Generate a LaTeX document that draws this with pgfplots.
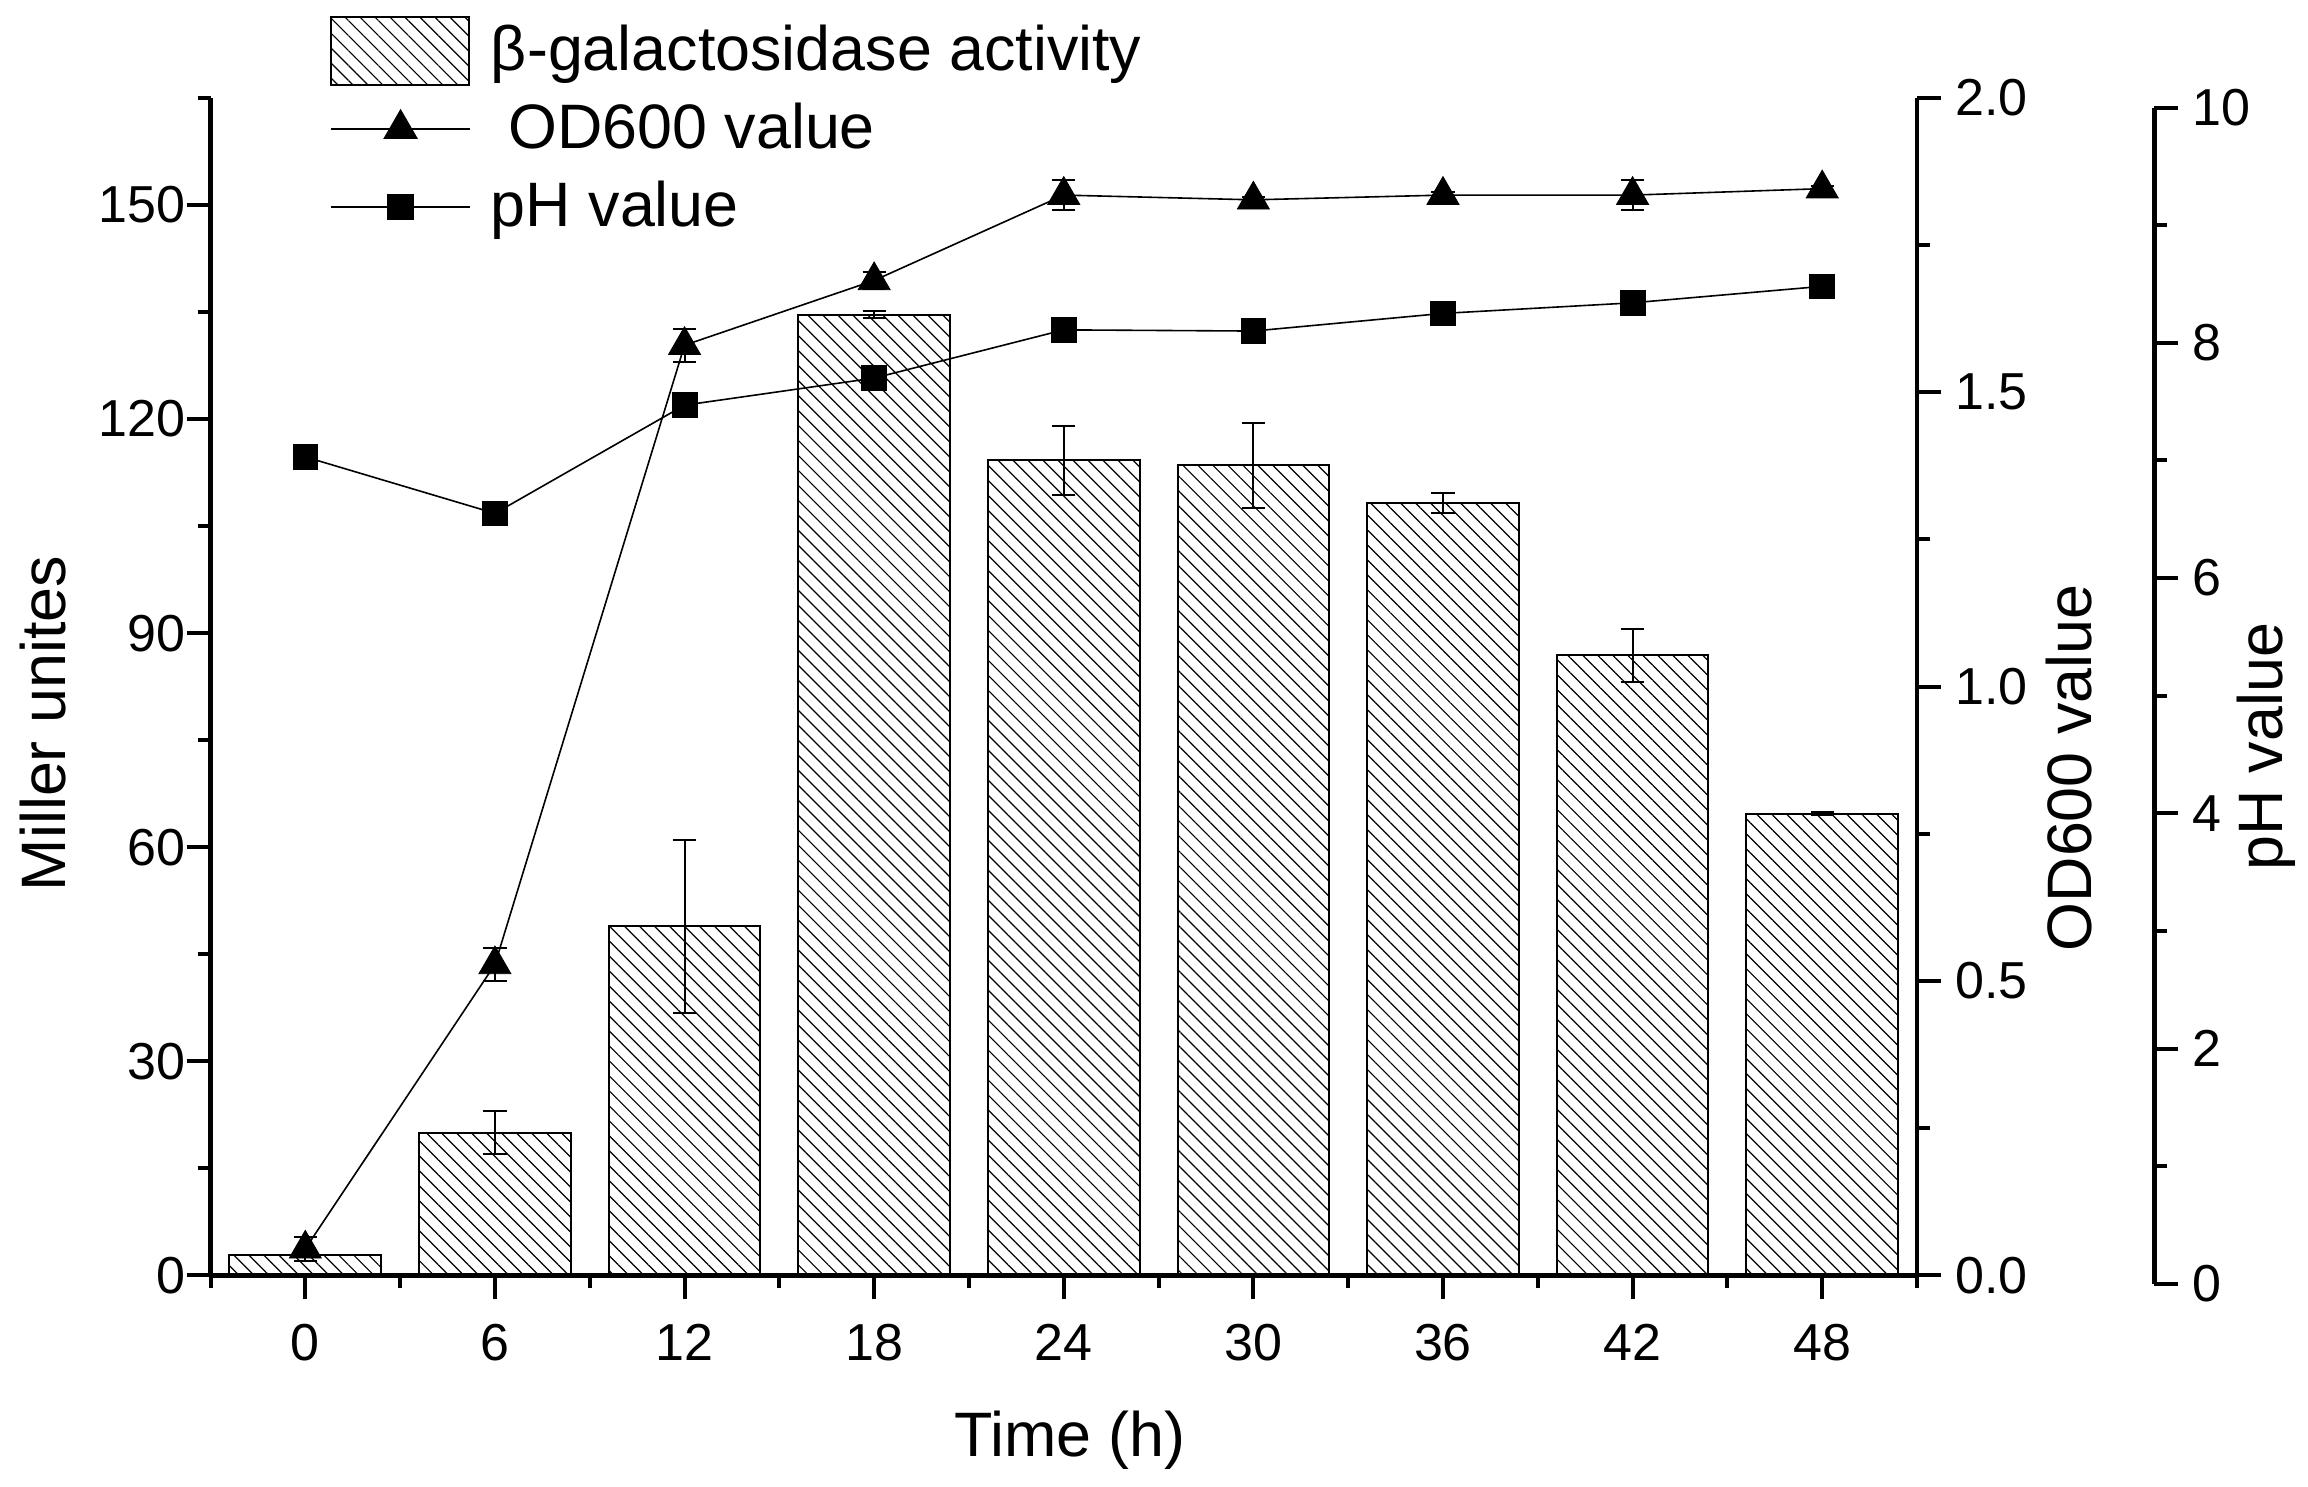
\documentclass[border=0pt]{standalone}
\usepackage{fontspec}
\setmainfont{Liberation Sans}
\usepackage{pgfplots}
\pgfplotsset{compat=1.18}
\usetikzlibrary{patterns.meta}
\newcommand{\tickfont}{\fontsize{13}{15}\selectfont}
\newcommand{\labfont}{\fontsize{15.7}{18}\selectfont}
\pgfplotsset{
  commonaxis/.style={
    scale only axis,
    tick align=outside,
    major tick length=6pt, minor tick length=3.2pt,
    axis line style={line width=1.2pt, black},
    major tick style={line width=1pt, black},
    minor tick style={line width=1pt, black},
    tick label style={font=\tickfont},
    label style={font=\labfont},
    /pgf/number format/assume math mode=true,
  }
}
\begin{document}
\begin{tikzpicture}
\path[use as bounding box] (0,0) rectangle (577pt,371.5pt);
% main axis: bars
\begin{axis}[commonaxis,
  at={(52.625pt,52.675pt)}, anchor=south west,
  width=426.625pt, height=294.325pt,
  xmin=-3, xmax=51, ymin=0, ymax=165,
  axis x line*=bottom, axis y line*=left,
  xtick={0,6,...,48}, minor xtick={-3,3,...,51},
  ytick={0,30,...,150}, minor ytick={15,45,...,165},
  xticklabel style={yshift=-2.6pt},
  yticklabel style={xshift=3.3pt},
  xlabel={Time (h)}, ylabel={Miller unites},
  xlabel style={at={(axis description cs:0.5037,-0.1403)}, anchor=center},
  ylabel style={at={(axis description cs:-0.0982,0.4686)}, anchor=center},
  legend style={at={(0.07003,1.0731)}, anchor=north west, draw=none, fill=none,
    inner sep=0pt, outer sep=0pt, font=\labfont, row sep=0pt, nodes={inner sep=0pt}},
  legend cell align=left,
]
\addplot[ybar, bar width=4.8, bar shift=0pt, draw=black, line width=0.5pt,
  pattern={Lines[angle=-45,distance=2.65pt,line width=0.3pt]},
  legend image code/.code={
    \draw[black, line width=0.5pt, pattern={Lines[angle=-45,distance=2.65pt,line width=0.3pt]}]
      (0pt,-8.5pt) rectangle (34.5pt,8.5pt);
    \path[draw=none, fill=none, pattern=none] (0pt,-9.75pt) rectangle (40pt,9.75pt);},
  error bars/.cd, y dir=both, y explicit,
  error bar style={line width=0.5pt, black},
  error mark options={rotate=90, black, mark size=2.9pt, line width=0.5pt}]
coordinates {
  (0,2.9) +- (0,0.3)
  (6,20.0) +- (0,3.0)
  (12,48.9) +- (0,12.1)
  (18,134.6) +- (0,0.5)
  (24,114.2) +- (0,4.8)
  (30,113.5) +- (0,6.0)
  (36,108.2) +- (0,1.4)
  (42,86.9) +- (0,3.7)
  (48,64.7) +- (0,0.2)
};
\addlegendentry{β-galactosidase activity}
\addlegendimage{legend image code/.code={
  \draw[black, line width=0.4pt] (0pt,0pt) -- (34.75pt,0pt);
  \draw[black, fill=black, mark=triangle*, mark size=4.62pt] plot coordinates {(17.4pt,0pt)};
  \path[draw=none, fill=none, pattern=none] (0pt,-9.75pt) rectangle (40pt,9.75pt);}}
\addlegendentry{\ OD600 value}
\addlegendimage{legend image code/.code={
  \draw[black, line width=0.4pt] (0pt,0pt) -- (34.75pt,0pt);
  \draw[black, fill=black, mark=square*, mark size=3.1pt] plot coordinates {(17.4pt,0pt)};
  \path[draw=none, fill=none, pattern=none] (0pt,-9.75pt) rectangle (40pt,9.75pt);}}
\addlegendentry{pH value}
\end{axis}
% OD axis
\begin{axis}[commonaxis,
  at={(52.625pt,52.675pt)}, anchor=south west,
  width=426.625pt, height=294.325pt,
  xmin=-3, xmax=51, ymin=0, ymax=2,
  axis x line=none, axis y line*=right,
  ytick={0,0.5,1,1.5,2}, yticklabels={0.0,0.5,1.0,1.5,2.0},
  minor ytick={0.25,0.75,1.25,1.75},
  ylabel={OD600 value},
  ylabel style={at={(axis description cs:1.0889,0.431)}, anchor=center},
]
\addplot[black, line width=0.4pt, mark=triangle*, mark size=4.62pt,
  mark options={solid, fill=black, line width=0.2pt},
  error bars/.cd, y dir=both, y explicit,
  error bar style={line width=0.5pt, black},
  error mark options={rotate=90, black, mark size=2.9pt, line width=0.5pt}]
coordinates {
  (0,0.045) +- (0,0.02)
  (6,0.528) +- (0,0.028)
  (12,1.58) +- (0,0.028)
  (18,1.69) +- (0,0.015)
  (24,1.835) +- (0,0.025)
  (30,1.827) +- (0,0.005)
  (36,1.835) +- (0,0.005)
  (42,1.835) +- (0,0.025)
  (48,1.846) +- (0,0.005)
};
\end{axis}
% pH data
\begin{axis}[commonaxis,
  at={(52.625pt,50.55pt)}, anchor=south west,
  width=426.625pt, height=294.05pt,
  xmin=-3, xmax=51, ymin=0, ymax=10,
  hide axis,
]
\addplot[black, line width=0.4pt, mark=square*, mark size=3.1pt,
  mark options={solid, fill=black, line width=0.2pt}]
coordinates {
  (0,7.03) (6,6.55) (12,7.47) (18,7.70) (24,8.11)
  (30,8.10) (36,8.25) (42,8.34) (48,8.48)
};
\end{axis}
% pH axis
\begin{axis}[commonaxis,
  at={(538.6pt,50.55pt)}, anchor=south east,
  width=10pt, height=294.05pt,
  xmin=0, xmax=1, ymin=0, ymax=10,
  axis x line=none, axis y line*=right,
  ytick={0,2,4,6,8,10}, minor ytick={1,3,5,7,9},
  ylabel={pH value},
  ylabel style={at={(axis description cs:3.80,0.4566)}, anchor=center},
]
\end{axis}
\end{tikzpicture}
\end{document}
